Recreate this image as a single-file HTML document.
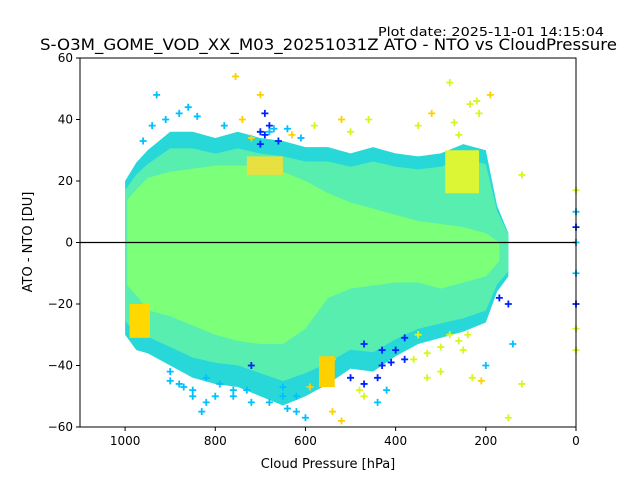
<!DOCTYPE html>
<html><head><meta charset="utf-8"><style>
html,body{margin:0;padding:0;background:#fff;}
svg{display:block;font-family:"DejaVu Sans","Liberation Sans",sans-serif;}
</style></head><body>
<svg id="chart" width="640" height="480" viewBox="0 0 640 480">
<text x="378" y="36" font-size="12" textLength="226" lengthAdjust="spacingAndGlyphs">Plot date: 2025-11-01 14:15:04</text>
<text x="40" y="50" font-size="16" textLength="577" lengthAdjust="spacingAndGlyphs">S-O3M_GOME_VOD_XX_M03_20251031Z ATO - NTO vs CloudPressure</text>
<g id="marks"></g>
<g id="axes"></g>
<text x="328" y="468" font-size="13" text-anchor="middle">Cloud Pressure [hPa]</text>
<text transform="translate(32,242) rotate(-90)" font-size="13" text-anchor="middle">ATO - NTO [DU]</text>
</svg>
<script>
// envelope (outer scatter) and core band per pressure bin
const envP   = [1000, 975, 950, 900, 850, 800, 750, 700, 650, 600, 550, 500, 450, 400, 350, 300, 250, 200, 175, 150];
const envTop = [20, 26, 30, 36, 36, 34, 36, 34, 33, 31, 31, 29, 31, 29, 28, 29, 32, 30, 12, 3];
const envBot = [-30, -35, -36, -40, -44, -46, -47, -50, -53, -50, -46, -41, -42, -37, -33, -31, -29, -26, -16, -11];
const coreP   = [995, 970, 950, 900, 850, 800, 750, 700, 650, 600, 550, 500, 450, 400, 350, 300, 250, 200, 170];
const coreTop = [14, 18, 21, 23, 24, 25, 25, 25, 23, 20, 16, 13, 11, 9, 7, 6, 5, 3, 0];
const coreBot = [-14, -18, -22, -24, -27, -30, -32, -33, -33, -28, -18, -15, -14, -13, -13, -15, -13, -11, -6];
// outlier points [pressure, value, colorIndex]
const ptP = [700,720,755,690,650,620,560,480,440,430,380,330,220,210,190,150,140,120,120,930,900,850,830,800,760,720,650,600,560,540,520,470,420,410,400,300,280,250,230,200,170,150,520,540,0,0,0,0,0,0,0,0,690,680,660,870,820,280,235,215,
  960,940,910,880,860,840,780,740,700,670,630,610,580,500,460,350,320,270,260,900,880,850,820,790,760,730,680,640,620,590,500,470,440,360,330,300,260,240,720,700,680,640,470,430,380,350];
const ptV = [48,-40,54,42,-50,-55,-45,-48,-52,-40,-38,-44,46,-45,48,-57,-33,22,-46,48,-45,-50,-55,-50,-48,-52,-47,-57,-42,-55,-58,-50,-48,-39,-35,-42,-30,-35,-44,-40,-18,-20,40,-38,17,10,0,-10,-20,-28,-35,5,35,38,33,-47,-52,52,45,42,
  33,38,40,42,44,41,38,40,36,37,35,34,38,36,40,38,42,39,35,-42,-46,-48,-44,-46,-50,-48,-52,-54,-50,-47,-44,-46,-44,-38,-36,-34,-32,-30,34,32,36,37,-33,-35,-31,-30];
const ptC = [3,0,3,0,1,1,3,2,1,0,0,2,2,3,3,2,1,2,2,1,1,1,1,1,1,1,1,1,3,3,3,2,1,0,0,2,2,2,2,1,0,0,3,3,2,1,1,1,0,2,2,0,0,0,0,1,1,2,2,2,
  1,1,1,1,1,1,1,3,0,1,3,1,2,2,2,2,3,2,2,1,1,1,1,1,1,1,1,1,1,3,0,0,0,2,2,2,2,2,3,0,1,1,0,0,0,2];
const palette = ['#0022ff','#00c0ff','#d8f520','#ffd000'];

const X0=80,X1=576,Y0=58,Y1=427;
const xs = p => X0 + (1100 - p) / 1100 * (X1 - X0);
const ys = v => Y0 + (60 - v) / 120 * (Y1 - Y0);
const NS='http://www.w3.org/2000/svg';
const marks=document.getElementById('marks');
const axes=document.getElementById('axes');
function mk(tag, parent){const e=document.createElementNS(NS,tag);parent.appendChild(e);return e;}

function band(P,T,B,fill,name){
  const pts=[];
  P.forEach((p,i)=>pts.push(xs(p)+','+ys(T[i])));
  for(let i=P.length-1;i>=0;i--) pts.push(xs(P[i])+','+ys(B[i]));
  const e=mk('polygon',marks);
  e.setAttribute('points',pts.join(' '));
  e.setAttribute('fill',fill);
  
  
}
band(envP,envTop,envBot,'#28d8d8','outer-scatter-band');
const midTop=envTop.map(t=>t*0.85), midBot=envBot.map(b=>b*0.85);
band(envP,midTop,midBot,'#58eeb0','mid-scatter-band');
band(coreP,coreTop,coreBot,'#7cff79','core-scatter-band');

function blob(p1,p2,v1,v2,fill,name){
  const e=mk('rect',marks);
  e.setAttribute('x',xs(p1));e.setAttribute('y',ys(v1));
  e.setAttribute('width',xs(p2)-xs(p1));e.setAttribute('height',ys(v2)-ys(v1));
  e.setAttribute('fill',fill);
  
  
}
blob(990,945,-20,-31,'#ffd800','yellow-cluster-low-left');
blob(570,535,-37,-47,'#ffd000','yellow-cluster-mid');
blob(290,215,30,16,'#dcf535','yellow-cluster-upper-right');
blob(730,650,28,22,'#e8e040','yellow-cluster-top-mid');

ptP.forEach((p,i)=>{
  const x=xs(p),y=ys(ptV[i]);
  const e=mk('path',marks);
  e.setAttribute('d',`M${x-3.5},${y}H${x+3.5}M${x},${y-3.5}V${y+3.5}`);
  e.setAttribute('stroke',palette[ptC[i]]);
  e.setAttribute('stroke-width','1.8');
  
  
});

const z=mk('line',axes);
z.setAttribute('x1',X0);z.setAttribute('x2',X1);z.setAttribute('y1',ys(0));z.setAttribute('y2',ys(0));
z.setAttribute('stroke','#000');z.setAttribute('stroke-width','1.2');



const frame=mk('rect',axes);
frame.setAttribute('x',X0);frame.setAttribute('y',Y0);frame.setAttribute('width',X1-X0);frame.setAttribute('height',Y1-Y0);
frame.setAttribute('fill','none');frame.setAttribute('stroke','#000');



const xTicks=[1000,800,600,400,200,0];
const yTicks=[60,40,20,0,-20,-40,-60];
xTicks.forEach(t=>{
  const x=xs(t);
  const l=mk('line',axes);l.setAttribute('x1',x);l.setAttribute('x2',x);l.setAttribute('y1',Y1);l.setAttribute('y2',Y1+4);l.setAttribute('stroke','#000');
  
  
  const tx=mk('text',axes);tx.setAttribute('x',x);tx.setAttribute('y',Y1+18);tx.setAttribute('font-size','12');tx.setAttribute('text-anchor','middle');tx.textContent=t;
  
  
});
yTicks.forEach(t=>{
  const y=ys(t);
  const l=mk('line',axes);l.setAttribute('x1',X0-4);l.setAttribute('x2',X0);l.setAttribute('y1',y);l.setAttribute('y2',y);l.setAttribute('stroke','#000');
  
  
  const tx=mk('text',axes);tx.setAttribute('x',X0-7);tx.setAttribute('y',y+4);tx.setAttribute('font-size','12');tx.setAttribute('text-anchor','end');tx.textContent=t===0?'0':(t<0?'\u2212'+(-t):t);
  
  
});
</script>
</body></html>
